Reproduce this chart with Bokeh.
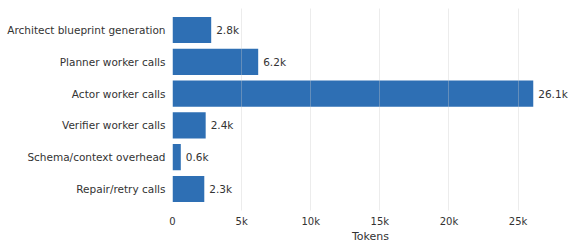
from bokeh.plotting import figure
from bokeh.models import ColumnDataSource, FactorRange, Range1d, LabelSet, CustomJSTickFormatter, SingleIntervalTicker
from bokeh.core.properties import value
from bokeh.embed import file_html
from bokeh.resources import INLINE

categories = ["Architect blueprint generation", "Planner worker calls", "Actor worker calls",
              "Verifier worker calls", "Schema/context overhead", "Repair/retry calls"]
tokens = [2800, 6200, 26100, 2400, 600, 2300]
labels = ["2.8k", "6.2k", "26.1k", "2.4k", "0.6k", "2.3k"]

src = ColumnDataSource(dict(cat=categories, val=tokens, lab=labels))

p = figure(frame_width=396, frame_height=202, output_backend="svg", toolbar_location=None,
           y_range=FactorRange(*reversed(categories), range_padding=0.06),
           x_range=Range1d(0, 28650),
           min_border_left=172, min_border_right=0, min_border_top=8, min_border_bottom=0)
p.outline_line_color = None
p.hbar(y="cat", right="val", height=0.82, source=src, color="#2e6fb4", line_color=None)
p.add_layout(LabelSet(x="val", y="cat", text="lab", source=src, x_offset=5, y_offset=0,
                      text_baseline="middle", text_font_size="10.5px", text_color="#333333",
                      text_font=value("DejaVu Sans")))

p.xaxis.ticker = SingleIntervalTicker(interval=5000)
p.xaxis.formatter = CustomJSTickFormatter(code="return tick == 0 ? '0' : (tick/1000) + 'k';")
p.xaxis.axis_label = "Tokens"
for ax in (p.xaxis[0], p.yaxis[0]):
    ax.axis_line_color = None
    ax.major_tick_line_color = None
    ax.minor_tick_line_color = None
    ax.major_tick_out = 0
    ax.major_tick_in = 0
    ax.minor_tick_out = 0
    ax.major_label_text_font = "DejaVu Sans"
    ax.major_label_text_color = "#333333"
p.yaxis.major_label_text_font_size = "10.5px"
p.xaxis.major_label_text_font_size = "10px"
p.xaxis.major_label_standoff = 5
p.yaxis.major_label_standoff = 7
p.xaxis.axis_label_text_font = "DejaVu Sans"
p.xaxis.axis_label_text_font_style = "normal"
p.xaxis.axis_label_text_font_size = "11px"
p.xaxis.axis_label_text_color = "#333333"
p.xaxis.axis_label_standoff = 0
p.ygrid.grid_line_color = None
p.xgrid.grid_line_color = "#c8c8c8"
p.xgrid.grid_line_alpha = 0.35
p.xgrid.level = "overlay"

open("out.html", "w").write(file_html(p, INLINE))
